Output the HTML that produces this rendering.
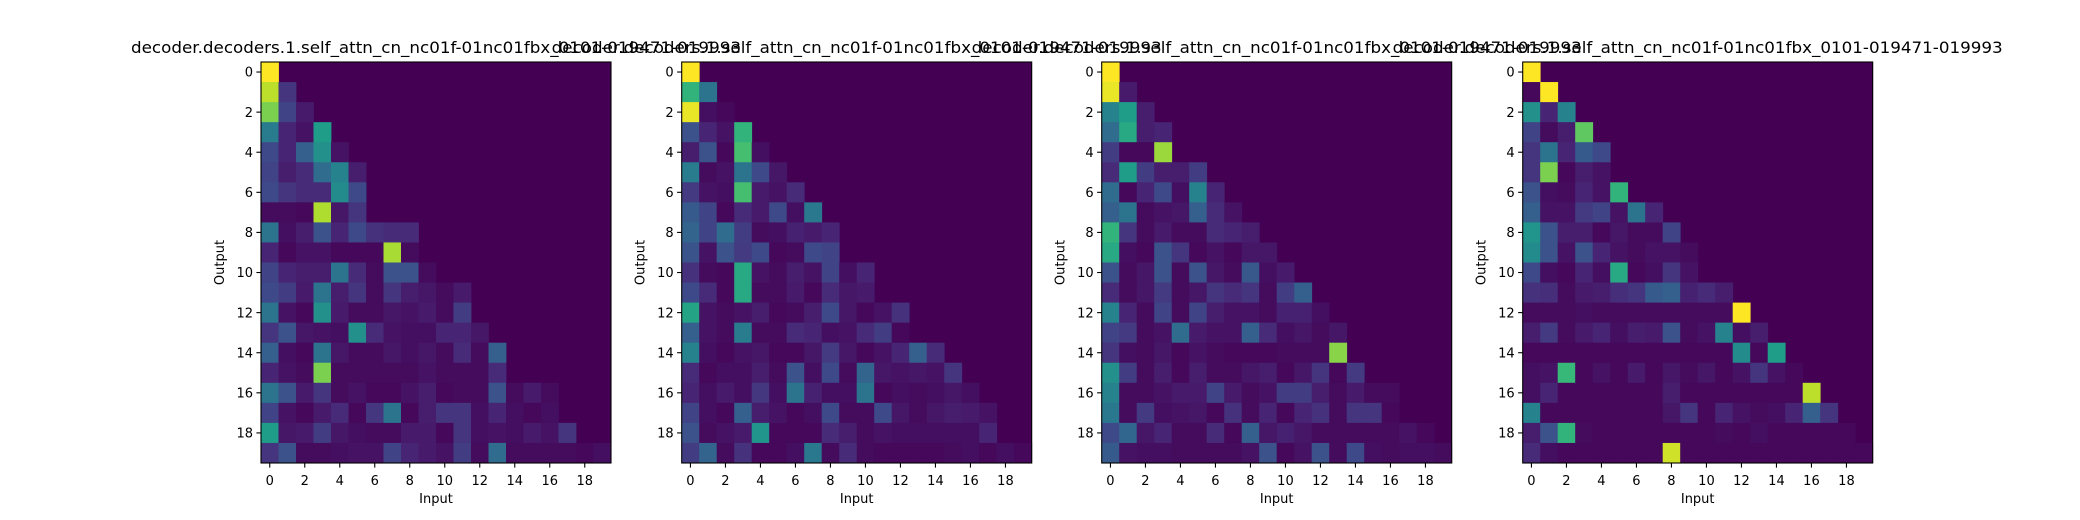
<!DOCTYPE html>
<html><head><meta charset="utf-8"><style>
html,body{margin:0;padding:0;background:#fff;}
svg{display:block;font-family:"DejaVu Sans","Liberation Sans",sans-serif;}
</style></head><body>
<svg id="fig" width="2080" height="520" viewBox="0 0 2080 520" xmlns="http://www.w3.org/2000/svg"></svg>
<script>
const panelTitles = [
 "decoder.decoders.1.self_attn_cn_nc01f-01nc01fbx_0101-019471-019993",
 "decoder.decoders.1.self_attn_cn_nc01f-01nc01fbx_0101-019471-019993",
 "decoder.decoders.1.self_attn_cn_nc01f-01nc01fbx_0101-019471-019993",
 "decoder.decoders.1.self_attn_cn_nc01f-01nc01fbx_0101-019471-019993"];
const tickLabels = [0,2,4,6,8,10,12,14,16,18];
const heat1 = [
[1.0],
[0.9,0.15],
[0.8,0.2,0.07],
[0.42,0.1,0.05,0.55],
[0.22,0.1,0.3,0.5,0.05],
[0.2,0.08,0.12,0.35,0.45,0.08],
[0.22,0.15,0.12,0.12,0.48,0.22],
[0.03,0.03,0.02,0.88,0.06,0.15],
[0.38,0.04,0.08,0.25,0.1,0.22,0.14,0.12,0.12],
[0.1,0.02,0.05,0.05,0.02,0.02,0.02,0.87,0.03],
[0.2,0.1,0.08,0.08,0.38,0.12,0.03,0.25,0.25,0.03],
[0.22,0.18,0.07,0.38,0.08,0.15,0.03,0.15,0.08,0.06,0.03,0.07],
[0.38,0.05,0.02,0.5,0.07,0.03,0.03,0.06,0.05,0.07,0.03,0.18],
[0.15,0.25,0.06,0.05,0.04,0.5,0.12,0.05,0.04,0.04,0.1,0.1,0.06],
[0.3,0.04,0.02,0.38,0.06,0.03,0.03,0.06,0.04,0.06,0.03,0.12,0.03,0.3],
[0.1,0.05,0.03,0.8,0.03,0.03,0.03,0.03,0.03,0.05,0.03,0.03,0.03,0.12],
[0.38,0.25,0.07,0.15,0.03,0.05,0.02,0.02,0.05,0.08,0.02,0.03,0.03,0.25,0.03,0.07,0.03],
[0.2,0.05,0.02,0.07,0.12,0.02,0.16,0.38,0.02,0.08,0.15,0.15,0.04,0.1,0.04,0.02,0.04],
[0.55,0.06,0.07,0.18,0.06,0.04,0.03,0.03,0.07,0.07,0.02,0.15,0.04,0.05,0.04,0.07,0.05,0.15],
[0.15,0.25,0.03,0.03,0.04,0.05,0.05,0.2,0.1,0.07,0.05,0.18,0.03,0.35,0.03,0.03,0.03,0.03,0.02,0.04]];
const heat2 = [
[1],
[0.65,0.38],
[0.97,0.04,0.02],
[0.25,0.1,0.05,0.65],
[0.08,0.25,0.02,0.7,0.04],
[0.42,0.03,0.05,0.38,0.22,0.06],
[0.17,0.05,0.04,0.7,0.07,0.05,0.12],
[0.28,0.2,0.02,0.12,0.07,0.22,0.04,0.4],
[0.32,0.2,0.35,0.18,0.03,0.04,0.09,0.07,0.1],
[0.26,0.05,0.25,0.17,0.22,0.02,0.03,0.22,0.2],
[0.14,0.03,0.02,0.6,0.05,0.03,0.08,0.05,0.2,0.04,0.1],
[0.22,0.12,0.02,0.6,0.03,0.03,0.07,0.02,0.12,0.06,0.07],
[0.58,0.05,0.03,0.05,0.08,0.02,0.03,0.08,0.22,0.06,0.02,0.05,0.14],
[0.3,0.05,0.03,0.42,0.03,0.03,0.12,0.1,0.04,0.05,0.12,0.18,0.02],
[0.45,0.04,0.02,0.05,0.06,0.02,0.02,0.06,0.17,0.06,0.02,0.05,0.1,0.3,0.12],
[0.12,0.02,0.04,0.04,0.08,0.03,0.25,0.04,0.22,0.03,0.32,0.06,0.05,0.06,0.05,0.15],
[0.1,0.04,0.07,0.04,0.16,0.04,0.38,0.09,0.04,0.04,0.38,0.02,0.04,0.03,0.04,0.06,0.04],
[0.2,0.04,0.02,0.3,0.08,0.05,0.02,0.04,0.22,0.03,0.03,0.22,0.06,0.03,0.06,0.08,0.07,0.05],
[0.25,0.03,0.05,0.07,0.52,0.02,0.02,0.02,0.12,0.08,0.03,0.05,0.04,0.04,0.04,0.04,0.04,0.1],
[0.18,0.32,0.03,0.14,0.02,0.02,0.04,0.4,0.03,0.12,0.03,0.02,0.02,0.02,0.02,0.03,0.04,0.02,0.04,0.02]];
const heat3 = [
[1],
[0.97,0.07],
[0.45,0.55,0.08],
[0.35,0.6,0.08,0.1],
[0.18,0.02,0.02,0.85],
[0.12,0.55,0.18,0.08,0.08,0.18],
[0.35,0.02,0.1,0.22,0.04,0.45,0.1],
[0.3,0.38,0.03,0.05,0.06,0.3,0.12,0.05],
[0.65,0.15,0.03,0.07,0.03,0.03,0.12,0.1,0.08],
[0.6,0.04,0.02,0.25,0.15,0.02,0.05,0.02,0.06,0.06],
[0.25,0.03,0.06,0.25,0.03,0.25,0.06,0.03,0.27,0.04,0.07],
[0.12,0.03,0.06,0.17,0.03,0.06,0.15,0.12,0.15,0.03,0.18,0.3],
[0.45,0.1,0.03,0.2,0.03,0.2,0.08,0.05,0.05,0.03,0.09,0.09,0.04],
[0.2,0.17,0.03,0.05,0.35,0.07,0.05,0.05,0.3,0.12,0.04,0.06,0.03,0.06],
[0.15,0.04,0.03,0.06,0.02,0.05,0.03,0.02,0.02,0.02,0.03,0.03,0.03,0.82],
[0.5,0.18,0.03,0.08,0.02,0.08,0.03,0.03,0.06,0.08,0.02,0.06,0.15,0.02,0.17],
[0.45,0.03,0.03,0.05,0.07,0.07,0.2,0.07,0.03,0.05,0.18,0.18,0.08,0.03,0.07,0.03,0.03],
[0.4,0.03,0.17,0.04,0.05,0.06,0.02,0.14,0.03,0.1,0.02,0.1,0.14,0.03,0.15,0.15,0.02],
[0.22,0.33,0.06,0.1,0.03,0.03,0.12,0.02,0.3,0.06,0.09,0.06,0.03,0.03,0.03,0.03,0.03,0.05,0.02],
[0.28,0.05,0.04,0.04,0.03,0.03,0.03,0.03,0.05,0.25,0.02,0.05,0.25,0.03,0.22,0.04,0.03,0.04,0.04,0.03]];
const heat4 = [
[1],
[0.02,1],
[0.5,0.1,0.45],
[0.2,0.03,0.08,0.75],
[0.15,0.38,0.1,0.28,0.22],
[0.15,0.8,0.02,0.08,0.05],
[0.25,0.04,0.03,0.1,0.05,0.65],
[0.3,0.05,0.05,0.17,0.2,0.05,0.38,0.1],
[0.52,0.25,0.08,0.08,0.02,0.06,0.03,0.03,0.2],
[0.48,0.25,0.05,0.25,0.1,0.05,0.03,0.05,0.05,0.03],
[0.22,0.04,0.02,0.1,0.04,0.6,0.02,0.04,0.15,0.05],
[0.14,0.13,0.03,0.07,0.08,0.13,0.15,0.28,0.3,0.09,0.12,0.08],
[0.03,0.03,0.03,0.04,0.03,0.03,0.03,0.03,0.03,0.03,0.03,0.03,1.0],
[0.08,0.17,0.03,0.07,0.1,0.04,0.08,0.07,0.25,0.03,0.05,0.45,0.04,0.08],
[0.02,0.02,0.02,0.02,0.02,0.02,0.02,0.02,0.02,0.02,0.02,0.02,0.48,0.02,0.55],
[0.04,0.05,0.67,0.02,0.05,0.02,0.07,0.02,0.06,0.03,0.06,0.02,0.05,0.15,0.05,0.02],
[0.04,0.1,0.02,0.02,0.02,0.02,0.02,0.02,0.08,0.02,0.02,0.02,0.02,0.02,0.02,0.02,0.9],
[0.45,0.02,0.02,0.02,0.02,0.02,0.02,0.02,0.06,0.15,0.02,0.1,0.05,0.03,0.04,0.1,0.3,0.15],
[0.08,0.25,0.65,0.03,0.02,0.02,0.02,0.02,0.02,0.02,0.02,0.03,0.02,0.04,0.02,0.02,0.02,0.02,0.02],
[0.12,0.04,0.02,0.02,0.02,0.02,0.02,0.02,0.93,0.02,0.02,0.02,0.02,0.02,0.02,0.02,0.02,0.02,0.02,0.02]];
const heatmaps = [heat1, heat2, heat3, heat4];

const VIR = [[68,1,84],[72,40,120],[62,74,137],[49,104,142],[38,130,142],[31,158,137],[53,183,121],[109,205,89],[180,222,44],[253,231,37]];
function viridis(t){
  t=Math.max(0,Math.min(1,t));
  const p=t*(VIR.length-1), i=Math.min(VIR.length-2,Math.floor(p)), f=p-i;
  const c=VIR[i].map((v,k)=>Math.round(v+(VIR[i+1][k]-v)*f));
  return `rgb(${c[0]},${c[1]},${c[2]})`;
}
const NS="http://www.w3.org/2000/svg";
const svg=document.getElementById('fig');
function mk(tag,attrs,parent){const e=document.createElementNS(NS,tag);for(const k in attrs)e.setAttribute(k,attrs[k]);(parent||svg).appendChild(e);return e;}
const N=20, AX_W=350, AX_H=401, AX_TOP=62;
const axLeft=[261,681.7,1101.7,1522.7];

heatmaps.forEach((data,p)=>{
  const L=axLeft[p];
  const g=mk('g',{});
  
  
  const xs=j=>L+j*AX_W/N, ys=i=>AX_TOP+i*AX_H/N;
  const bg=mk('rect',{x:L,y:AX_TOP,width:AX_W,height:AX_H,fill:viridis(0)},g);
  
  
  data.forEach((row,i)=>row.forEach((v,j)=>{
    const r=mk('rect',{x:xs(j),y:ys(i),width:AX_W/N+0.4,height:AX_H/N+0.4,fill:viridis(v)},g);
    
    
  }));
  const fr=mk('rect',{x:L,y:AX_TOP,width:AX_W,height:AX_H,fill:'none',stroke:'#000','stroke-width':1.1},g);
  
  
  tickLabels.forEach(t=>{
    const cx=xs(t+0.5), cy=ys(t+0.5);
    mk('line',{x1:cx,y1:AX_TOP+AX_H,x2:cx,y2:AX_TOP+AX_H+4.6,stroke:'#000','stroke-width':1.1},g);
    const tx=mk('text',{x:cx,y:485,'font-size':13,'text-anchor':'middle',fill:'#000'},g);
    tx.textContent=t;
    
    
    mk('line',{x1:L,y1:cy,x2:L-4.6,y2:cy,stroke:'#000','stroke-width':1.1},g);
    const ty=mk('text',{x:L-8,y:cy+4.7,'font-size':13,'text-anchor':'end',fill:'#000'},g);
    ty.textContent=t;
    
    
  });
  const xl=mk('text',{x:L+AX_W/2,y:503,'font-size':13,'text-anchor':'middle',fill:'#000'},g);
  xl.textContent='Input';
  
  
  const yx=L-37, yy=AX_TOP+AX_H/2;
  const yl=mk('text',{x:yx,y:yy,'font-size':13,'text-anchor':'middle',fill:'#000',transform:`rotate(-90 ${yx} ${yy})`},g);
  yl.textContent='Output';
  
  
  const tt=mk('text',{x:L+AX_W/2,y:53,'font-size':15.6,'text-anchor':'middle',fill:'#000',textLength:610,lengthAdjust:'spacingAndGlyphs'},g);
  tt.textContent=panelTitles[p];
  
  
});
</script>
</body></html>
